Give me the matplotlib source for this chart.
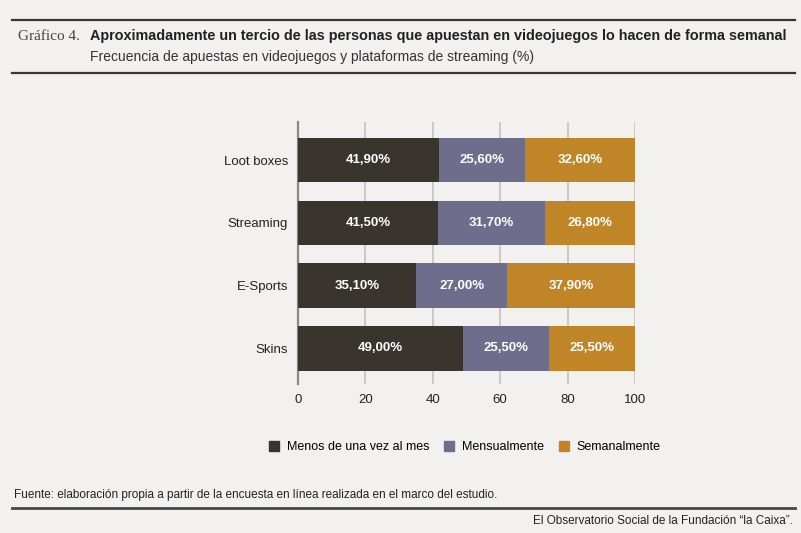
import matplotlib.pyplot as plt
from matplotlib.patches import Rectangle
from matplotlib.lines import Line2D

categories = ['Loot boxes', 'Streaming', 'E-Sports', 'Skins']
menos = [41.9, 41.5, 35.1, 49.0]
mensual = [25.6, 31.7, 27.0, 25.5]
semanal = [32.6, 26.8, 37.9, 25.5]
series_names = ['Menos de una vez al mes', 'Mensualmente', 'Semanalmente']
colors = ['#3a342f', '#6e6e8c', '#c08526']

bg = '#f2f1f0'
sans = ['Liberation Sans', 'DejaVu Sans']

fig = plt.figure(figsize=(8.01, 5.33), dpi=100, facecolor=bg)
ax = fig.add_axes([0.372, 0.2795, 0.4207, 0.4916], facecolor=bg)

y = list(range(len(categories)))[::-1]
left = [0] * len(categories)
for vals, col in zip([menos, mensual, semanal], colors):
    ax.barh(y, vals, left=left, height=0.71, color=col, zorder=3)
    for yi, l, v in zip(y, left, vals):
        ax.text(l + v / 2, yi, f'{v:.2f}%'.replace('.', ','), ha='center', va='center',
                color='white', fontsize=9.5, fontweight='bold', family=sans, zorder=4)
    left = [a + b for a, b in zip(left, vals)]

ax.set_xlim(0, 100)
ax.set_ylim(-0.57, 3.61)
ax.set_xticks([0, 20, 40, 60, 80, 100])
ax.set_yticks(y)
ax.set_yticklabels(categories)
ax.xaxis.grid(True, color='#c4c3c2', linewidth=1.2, zorder=0)
for s in ['top', 'right', 'bottom']:
    ax.spines[s].set_visible(False)
ax.spines['left'].set_color('#8a8886')
ax.spines['left'].set_linewidth(1.6)
ax.tick_params(length=0, labelsize=9.5, colors='#222222', pad=7)
for lab in ax.get_xticklabels() + ax.get_yticklabels():
    lab.set_family(sans)

# legend
handles = [Rectangle((0, 0), 1, 1, color=c) for c in colors]
fig.legend(handles, series_names, loc='center', bbox_to_anchor=(0.58, 0.161), ncol=3,
           frameon=False, handlelength=0.8, handleheight=0.8, handletextpad=0.6,
           columnspacing=1.2, prop={'family': sans, 'size': 9})

# header
fig.add_artist(Line2D([0.015, 0.993], [0.962, 0.962], color='#3a3836', linewidth=1.6))
fig.add_artist(Line2D([0.015, 0.993], [0.863, 0.863], color='#3a3836', linewidth=1.6))
fig.text(0.022, 0.932, 'Gráfico 4.', fontsize=11, family=['Liberation Serif', 'DejaVu Serif'],
         color='#444444', va='center')
fig.text(0.112, 0.932, 'Aproximadamente un tercio de las personas que apuestan en videojuegos lo hacen de forma semanal',
         fontsize=10.35, fontweight='bold', family=sans, color='#222222', va='center')
fig.text(0.112, 0.893, 'Frecuencia de apuestas en videojuegos y plataformas de streaming (%)',
         fontsize=10, family=sans, color='#333333', va='center')

# footer
fig.text(0.018, 0.071, 'Fuente: elaboración propia a partir de la encuesta en línea realizada en el marco del estudio.',
         fontsize=8.5, family=sans, color='#222222', va='center')
fig.add_artist(Line2D([0.015, 0.993], [0.047, 0.047], color='#4a4644', linewidth=2))
fig.text(0.99, 0.022, 'El Observatorio Social de la Fundación “la Caixa”.',
         fontsize=8.5, family=sans, color='#222222', va='center', ha='right')

fig.savefig('out.png', dpi=100, facecolor=bg)
